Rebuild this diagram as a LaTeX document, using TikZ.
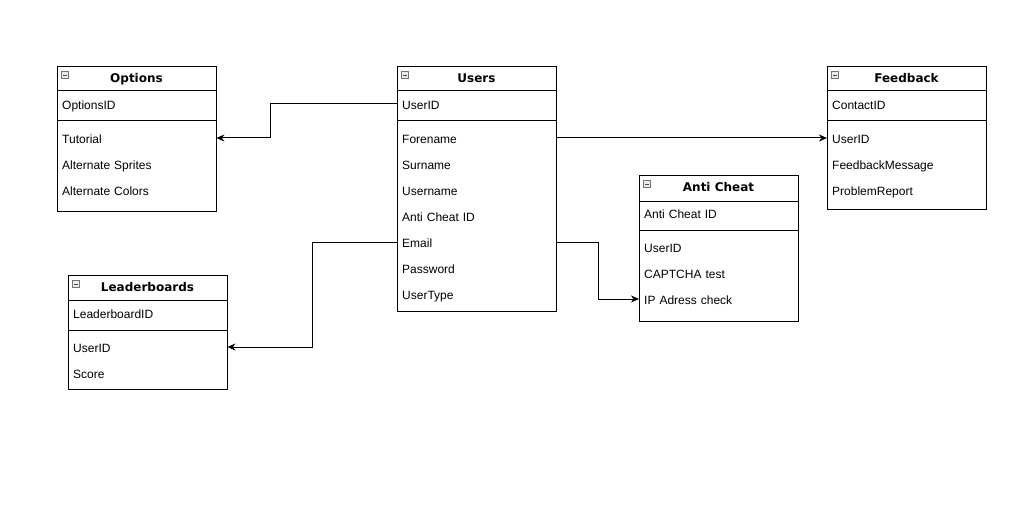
\documentclass[tikz,border=0pt]{standalone}
\usepackage{fontspec}
\setmainfont{Liberation Sans}
\newfontfamily\hdrfont{DejaVu Sans}
\usetikzlibrary{arrows.meta}
\tikzset{
  x=1pt,y=-1pt,
  frame/.style={draw=black,line width=1pt,minimum width=159pt,inner sep=0pt,anchor=north west},
  row/.style={anchor=west,text width=149pt,inner xsep=5pt,inner ysep=0pt,minimum height=26pt,align=left,font=\fontsize{12pt}{14pt}\selectfont,text height=10.2pt,text depth=0pt},
  title/.style={font=\hdrfont\bfseries\fontsize{12pt}{14pt}\selectfont,inner sep=0pt,text height=8.8pt,text depth=0pt},
  icon/.style={draw=black!55,fill=black!8,line width=0.6pt,minimum size=7pt,inner sep=0pt},
  conn/.style={draw=black,line width=1pt,-{Stealth[length=8pt,width=7pt,inset=2.5pt]}},
}
\newcommand{\erhead}[6]{% name, x0, ytop, yline1, yline2, ybottom
  \node[frame,minimum height={#6-#3}] (#1) at (#2,#3) {};
  \draw[line width=1pt] (#2,#4) -- (#2+159,#4);
  \draw[line width=1pt] (#2,#5) -- (#2+159,#5);
  \node[icon] (#1-icon) at (#2+8,#3+9) {};
  \draw[black!70,line width=0.7pt] ([xshift=-2pt]#1-icon.center) -- ([xshift=2pt]#1-icon.center);
}
\begin{document}
\begin{tikzpicture}
\useasboundingbox (0,0) rectangle (1033,508);
% Options
\erhead{opt}{57}{66}{91}{121}{211}
\node[title] (opt-t) at (136.5,78.5) {Options};
\node[row] (opt-id) at (57,104) {OptionsID};
\node[row] (opt-tut) at (57,138) {Tutorial};
\node[row] (opt-spr) at (57,164) {Alternate Sprites};
\node[row] (opt-col) at (57,190) {Alternate Colors};
% Users
\erhead{usr}{397}{66}{91}{121}{311}
\node[title] (usr-t) at (476.5,78.5) {Users};
\node[row] (usr-id) at (397,104) {UserID};
\node[row] (usr-fn) at (397,138) {Forename};
\node[row] (usr-sn) at (397,164) {Surname};
\node[row] (usr-un) at (397,190) {Username};
\node[row] (usr-ac) at (397,216) {Anti Cheat ID};
\node[row] (usr-em) at (397,242) {Email};
\node[row] (usr-pw) at (397,268) {Password};
\node[row] (usr-ty) at (397,294) {UserType};
% Feedback
\erhead{fb}{827}{66}{91}{121}{209}
\node[title] (fb-t) at (906.5,78.5) {Feedback};
\node[row] (fb-id) at (827,104) {ContactID};
\node[row] (fb-uid) at (827,138) {UserID};
\node[row] (fb-msg) at (827,164) {FeedbackMessage};
\node[row] (fb-pr) at (827,190) {ProblemReport};
% Anti Cheat
\erhead{ac}{639}{175}{201}{230}{321}
\node[title] (ac-t) at (718.5,187.5) {Anti Cheat};
\node[row] (ac-id) at (639,213) {Anti Cheat ID};
\node[row] (ac-uid) at (639,247) {UserID};
\node[row] (ac-cap) at (639,273) {CAPTCHA test};
\node[row] (ac-ip) at (639,299) {IP Adress check};
% Leaderboards
\erhead{lb}{68}{275}{300}{330}{389}
\node[title] (lb-t) at (147.5,287.5) {Leaderboards};
\node[row] (lb-id) at (68,313) {LeaderboardID};
\node[row] (lb-uid) at (68,347) {UserID};
\node[row] (lb-sc) at (68,373) {Score};
% Connectors
\coordinate (c1) at (270,104);
\coordinate (c3) at (312,242);
\coordinate (c4) at (598,242);
\draw[conn] (usr-id.west) -- (c1) |- (opt-tut.east);
\draw[conn] (usr-fn.east) -- (fb-uid.west);
\draw[conn] (usr-em.west) -- (c3) |- (lb-uid.east);
\draw[conn] (usr-em.east) -- (c4) |- (ac-ip.west);
\end{tikzpicture}
\end{document}
